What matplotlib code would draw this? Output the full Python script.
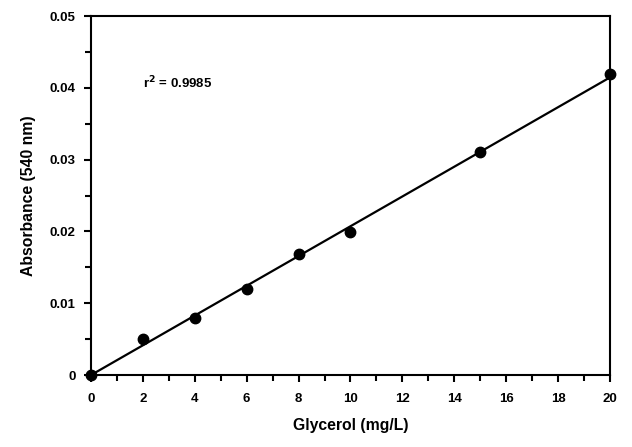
import numpy as np
import matplotlib
matplotlib.use('Agg')
import matplotlib.pyplot as plt
from matplotlib.ticker import MultipleLocator

# standard curve data
glycerol = [0, 2, 4, 6, 8, 10, 15, 20]
absorbance = [0.0, 0.0050, 0.0080, 0.0120, 0.0169, 0.0199, 0.0310, 0.0419]
r2_label = 'r$^{2}$ = 0.9985'

plt.rcParams['font.family'] = ['Liberation Sans', 'DejaVu Sans']
plt.rcParams['font.weight'] = 'bold'

fig = plt.figure(figsize=(6.32, 4.47), dpi=100)
ax = fig.add_axes([0.144, 0.161, 0.821, 0.803])

slope, intercept = np.polyfit(glycerol, absorbance, 1)
xfit = np.array([0, 20])
ax.plot(xfit, slope * xfit + intercept, color='black', lw=1.6, zorder=2)
ax.plot(glycerol, absorbance, 'o', color='black', ms=7.5, zorder=3, clip_on=False)

ax.set_xlim(0, 20)
ax.set_ylim(0, 0.05)
ax.xaxis.set_major_locator(MultipleLocator(2))
ax.xaxis.set_minor_locator(MultipleLocator(1))
ax.yaxis.set_major_locator(MultipleLocator(0.01))
ax.yaxis.set_minor_locator(MultipleLocator(0.005))
ax.set_yticks([0, 0.01, 0.02, 0.03, 0.04, 0.05])
ax.set_yticklabels(['0', '0.01', '0.02', '0.03', '0.04', '0.05'])

for s in ax.spines.values():
    s.set_linewidth(1.5)
ax.tick_params(which='major', direction='out', length=5, width=1.5, labelsize=9.5, pad=6)
ax.tick_params(axis='x', which='major', pad=8)
ax.tick_params(which='minor', direction='out', length=4, width=1.5)

ax.text(2.0, 0.0407, r2_label, fontsize=9.5, fontweight='bold', va='center')

ax.set_xlabel('Glycerol (mg/L)', fontsize=11.3, fontweight='bold', labelpad=9)
ax.set_ylabel('Absorbance (540 nm)', fontsize=11.3, fontweight='bold', labelpad=10)

fig.savefig('out.png', dpi=100)
